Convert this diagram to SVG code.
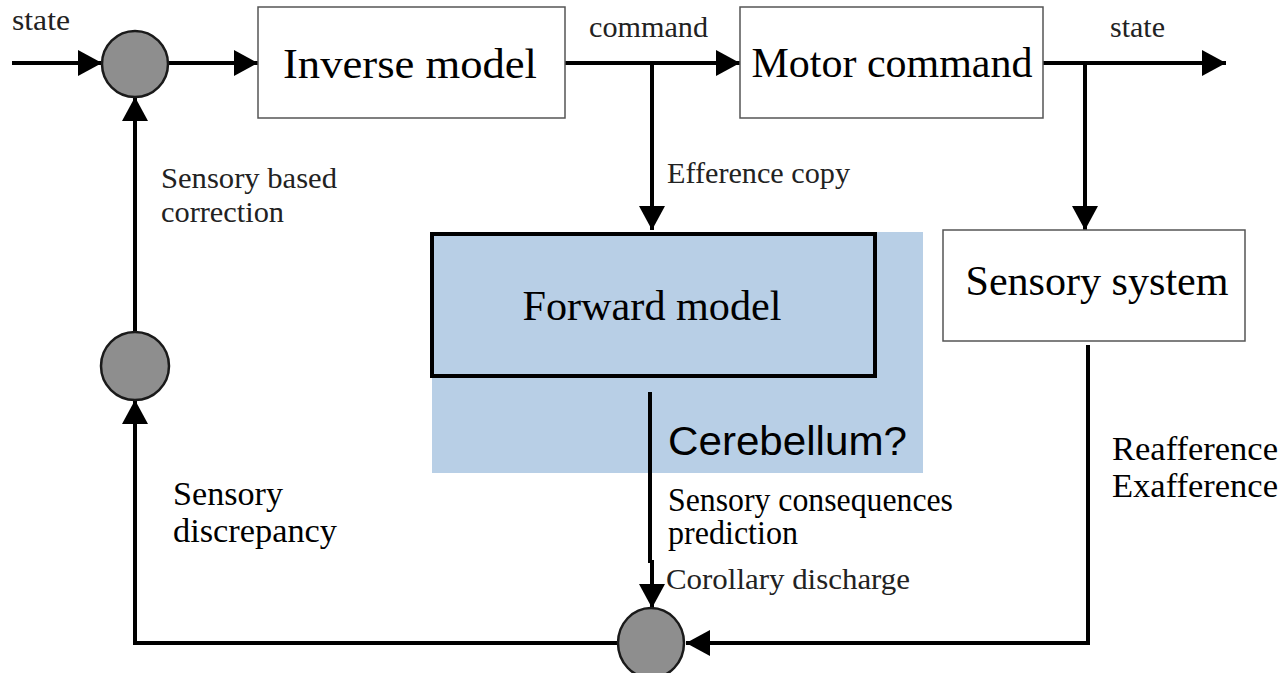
<svg xmlns="http://www.w3.org/2000/svg" width="1281" height="673" viewBox="0 0 1281 673">
<style>
.ser{font-family:"Liberation Serif","Times New Roman",serif;}
.big{font-size:43px;fill:#000;}
.sm{font-size:30px;fill:#222;}
.md{font-size:33px;fill:#000;}
.box{fill:#fff;stroke:#555;stroke-width:1.5;}
.sum{fill:#8e8e8e;stroke:#1a1a1a;stroke-width:2.5;}
.wire{fill:none;stroke:#000;stroke-width:4;}
.arr{marker-end:url(#ah);}
</style>
<defs>
<marker id="ah" markerUnits="userSpaceOnUse" markerWidth="24" markerHeight="26" refX="24" refY="13" orient="auto">
<path d="M0,0 L24,13 L0,26 z" fill="#000"/>
</marker>
</defs>
<rect id="cerebellum-region" x="432" y="232" width="491" height="241" fill="#b8cfe6"/>
<g id="connectors">
<line class="wire arr" x1="12" y1="63" x2="102" y2="63"/>
<line class="wire arr" x1="168" y1="63" x2="258" y2="63"/>
<line class="wire arr" x1="565" y1="63" x2="740" y2="63"/>
<line class="wire arr" x1="652" y1="63" x2="652" y2="230"/>
<line class="wire arr" x1="1043" y1="63" x2="1226" y2="63"/>
<line class="wire arr" x1="1085" y1="63" x2="1085" y2="230"/>
<polyline class="wire arr" points="1088,345 1088,643 686,643"/>
<line class="wire" x1="650" y1="392" x2="650" y2="563"/>
<line class="wire arr" x1="652" y1="560" x2="652" y2="608"/>
<polyline class="wire arr" points="618,643 135,643 135,400"/>
<line class="wire arr" x1="135" y1="332" x2="135" y2="97"/>
</g>
<g id="sum-top"><circle class="sum" cx="135" cy="64" r="33"/></g>
<g id="sum-mid"><circle class="sum" cx="135" cy="366" r="34"/></g>
<g id="sum-bottom"><ellipse class="sum" cx="651" cy="643" rx="33" ry="35"/></g>
<g id="inverse-model">
<rect class="box" x="258" y="7" width="307" height="111"/>
<text class="ser big" x="410" y="78" text-anchor="middle" textLength="254" lengthAdjust="spacingAndGlyphs">Inverse model</text>
</g>
<g id="motor-command">
<rect class="box" x="740" y="7" width="303" height="111"/>
<text class="ser big" x="892" y="77" text-anchor="middle" textLength="281" lengthAdjust="spacingAndGlyphs" font-size="45">Motor command</text>
</g>
<g id="sensory-system">
<rect class="box" x="943" y="230" width="302" height="111"/>
<text class="ser big" x="1097" y="295" text-anchor="middle" textLength="263" lengthAdjust="spacingAndGlyphs">Sensory system</text>
</g>
<g id="forward-model">
<rect x="432" y="234" width="443" height="142" fill="#b8cfe6" stroke="#000" stroke-width="4"/>
<text class="ser big" x="652" y="320" text-anchor="middle" textLength="259" lengthAdjust="spacingAndGlyphs">Forward model</text>
</g>
<g id="labels">
<text class="ser sm" x="12" y="30" textLength="58" lengthAdjust="spacingAndGlyphs">state</text>
<text class="ser sm" x="589" y="37" textLength="119" lengthAdjust="spacingAndGlyphs">command</text>
<text class="ser sm" x="1110" y="37" textLength="55" lengthAdjust="spacingAndGlyphs">state</text>
<text class="ser sm" x="161" y="188" textLength="176" lengthAdjust="spacingAndGlyphs">Sensory based</text>
<text class="ser sm" x="161" y="222" textLength="123" lengthAdjust="spacingAndGlyphs">correction</text>
<text class="ser sm" x="667" y="183" textLength="183" lengthAdjust="spacingAndGlyphs">Efference copy</text>
<text class="ser md" x="173" y="505" textLength="110" lengthAdjust="spacingAndGlyphs">Sensory</text>
<text class="ser md" x="173" y="542" textLength="164" lengthAdjust="spacingAndGlyphs">discrepancy</text>
<text x="668" y="455" font-family="Liberation Sans, Arial, sans-serif" font-size="41" fill="#000" textLength="239" lengthAdjust="spacingAndGlyphs">Cerebellum?</text>
<text class="ser md" x="668" y="511" textLength="285" lengthAdjust="spacingAndGlyphs">Sensory consequences</text>
<text class="ser md" x="668" y="544" textLength="130" lengthAdjust="spacingAndGlyphs">prediction</text>
<text class="ser sm" x="666" y="589" textLength="244" lengthAdjust="spacingAndGlyphs" font-size="33">Corollary discharge</text>
<text class="ser md" x="1112" y="460" textLength="166" lengthAdjust="spacingAndGlyphs">Reafference</text>
<text class="ser md" x="1112" y="497" textLength="166" lengthAdjust="spacingAndGlyphs">Exafference</text>
</g>
</svg>
